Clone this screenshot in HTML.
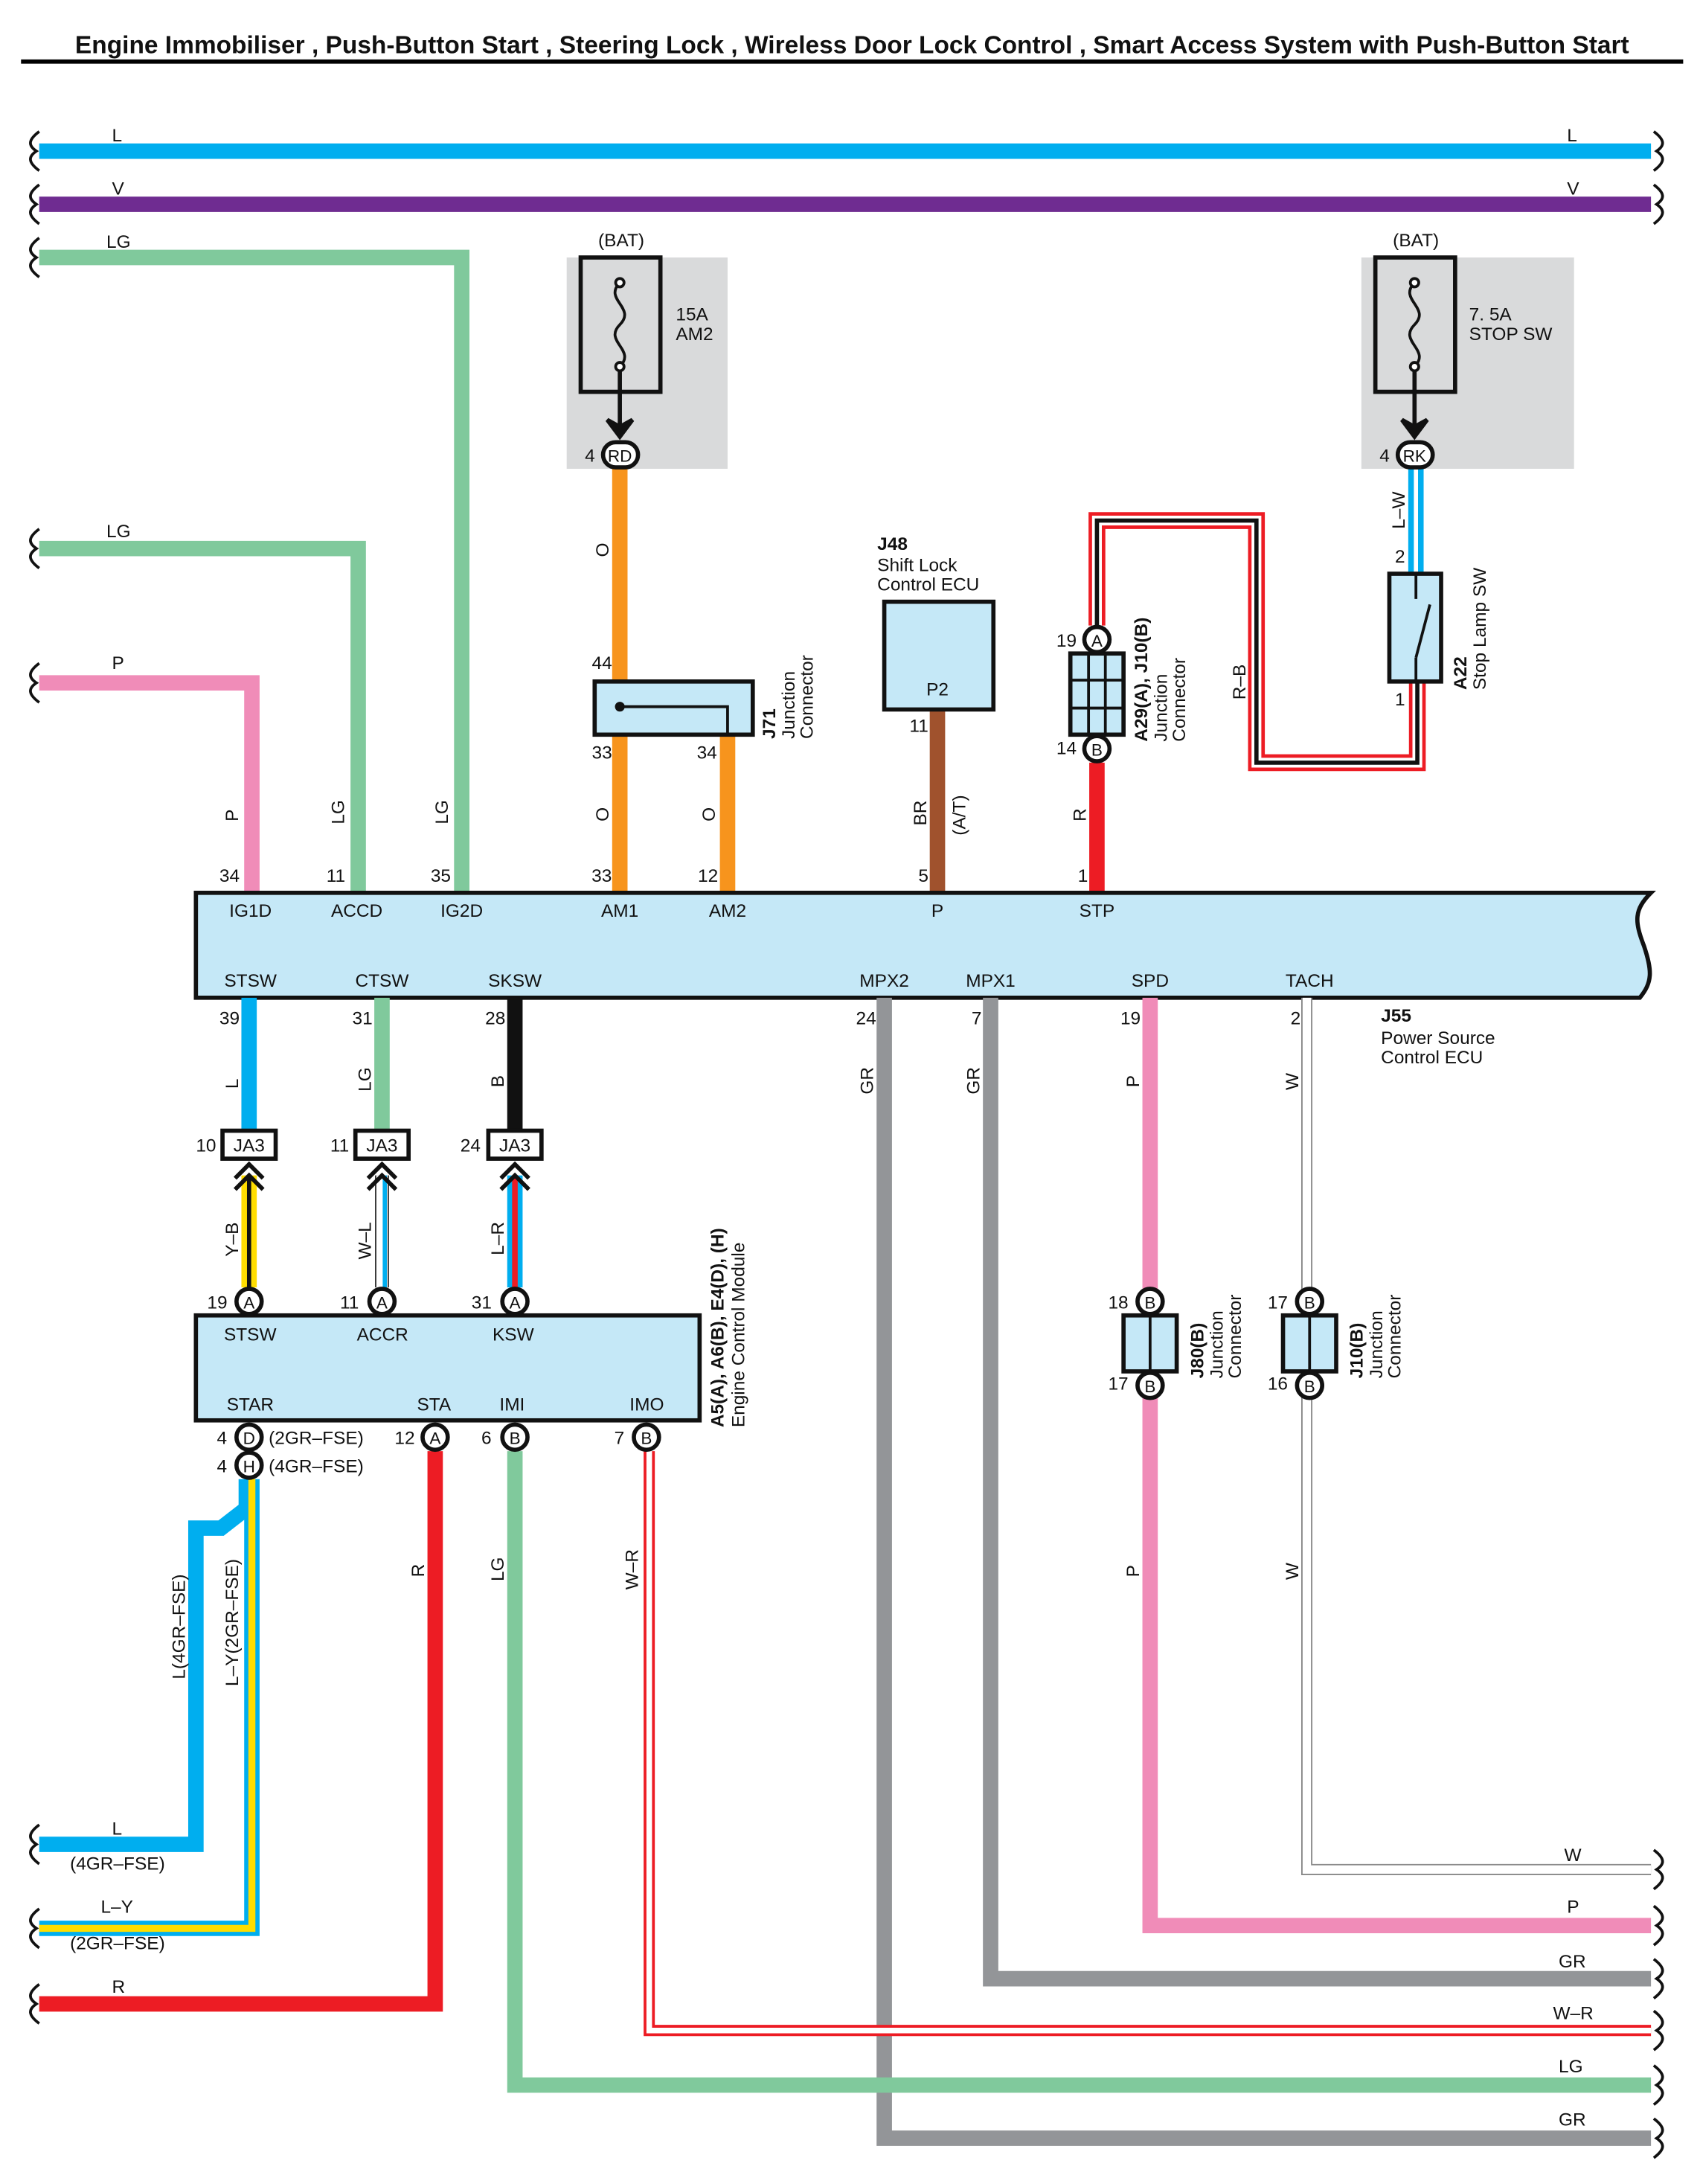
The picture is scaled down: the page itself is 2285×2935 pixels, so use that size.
<!DOCTYPE html>
<html><head><meta charset="utf-8"><style>
html,body{margin:0;padding:0;background:#fff}
svg{display:block}
text{font-family:"Liberation Sans",sans-serif;font-size:13px;fill:#111}
.b{font-weight:bold}
</style></head><body>
<svg width="2285" height="2935" viewBox="0 0 1215 1560.7" xmlns="http://www.w3.org/2000/svg">
<text x="609" y="38" text-anchor="middle" class="b" style="font-size:17.8px">Engine Immobiliser , Push-Button Start , Steering Lock , Wireless Door Lock Control , Smart Access System with Push-Button Start</text>
<line x1="15" y1="44" x2="1203" y2="44" stroke="#000" stroke-width="3"/>

<g fill="none" stroke-linejoin="miter">
<line x1="28" y1="108" x2="1180" y2="108" stroke="#00aeef" stroke-width="11"/>
<line x1="28" y1="146" x2="1180" y2="146" stroke="#6f2c91" stroke-width="11"/>
<polyline points="28,184 330,184 330,638" stroke="#80c99c" stroke-width="11"/>
<polyline points="28,392 256,392 256,638" stroke="#80c99c" stroke-width="11"/>
<polyline points="28,488 180,488 180,638" stroke="#f08cb8" stroke-width="11"/>
</g>
<rect x="405" y="184" width="115" height="151" fill="#d9dadb"/>
<rect x="973" y="184" width="152" height="151" fill="#d9dadb"/>
<g fill="none" stroke="#111" stroke-width="3">
<rect x="415" y="184" width="57" height="96"/>
<rect x="983" y="184" width="57" height="96"/>
<path d="M443 202 c-12 12 12 18 0 30 c-12 12 12 18 0 30" stroke-width="2"/>
<path d="M1011 202 c-12 12 12 18 0 30 c-12 12 12 18 0 30" stroke-width="2"/>
<line x1="443" y1="262" x2="443" y2="305"/>
<line x1="1011" y1="262" x2="1011" y2="305"/>
</g>
<g fill="#fff" stroke="#111" stroke-width="2"><circle cx="443" cy="202" r="3"/><circle cx="443" cy="262" r="3"/><circle cx="1011" cy="202" r="3"/><circle cx="1011" cy="262" r="3"/></g>
<path d="M434 300 L443 312 L452 300 L443 305 Z" fill="#111" stroke="#111" stroke-width="3"/>
<path d="M1002 300 L1011 312 L1020 300 L1011 305 Z" fill="#111" stroke="#111" stroke-width="3"/>
<text x="444" y="176" text-anchor="middle">(BAT)</text>
<text x="1012" y="176" text-anchor="middle">(BAT)</text>
<text x="483" y="229">15A</text><text x="483" y="243">AM2</text>
<text x="1050" y="229">7. 5A</text><text x="1050" y="243">STOP SW</text>

<g fill="none">
<line x1="443" y1="335" x2="443" y2="638" stroke="#f7941d" stroke-width="11"/>
<line x1="520" y1="525" x2="520" y2="638" stroke="#f7941d" stroke-width="11"/>
<line x1="670" y1="507" x2="670" y2="638" stroke="#a0522d" stroke-width="11"/>
<line x1="784" y1="545" x2="784" y2="638" stroke="#ed1c24" stroke-width="11"/>
<polyline points="784,447 784,372 898,372 898,545 1013,545 1013,487" stroke="#ed1c24" stroke-width="12"/>
<polyline points="784,447 784,372 898,372 898,545 1013,545 1013,487" stroke="#fff" stroke-width="7"/>
<polyline points="784,447 784,372 898,372 898,545 1013,545 1013,487" stroke="#111" stroke-width="3"/>
<line x1="1012" y1="335" x2="1012" y2="410" stroke="#00aeef" stroke-width="11"/>
<line x1="1012" y1="335" x2="1012" y2="410" stroke="#fff" stroke-width="3"/>
</g>
<rect x="425" y="487" width="113" height="38" fill="#c5e8f7" stroke="#111" stroke-width="3"/>
<polyline points="443,505 520,505 520,525" fill="none" stroke="#111" stroke-width="2"/>
<circle cx="443" cy="505" r="3.5" fill="#111"/>
<text x="423" y="478">44</text><text x="423" y="542">33</text><text x="498" y="542">34</text>
<g transform="translate(554,528) rotate(-90)"><text x="0" y="0" class="b">J71</text><text x="0" y="14">Junction</text><text x="0" y="27">Connector</text></g>
<rect x="632" y="430" width="78" height="77" fill="#c5e8f7" stroke="#111" stroke-width="3"/>
<text x="670" y="497" text-anchor="middle">P2</text>
<text x="627" y="393" class="b">J48</text><text x="627" y="408">Shift Lock</text><text x="627" y="422">Control ECU</text>
<text x="650" y="523">11</text>
<rect x="765" y="467" width="38" height="58" fill="#c5e8f7" stroke="#111" stroke-width="3"/>
<g stroke="#111" stroke-width="2"><line x1="778" y1="467" x2="778" y2="525"/><line x1="790" y1="467" x2="790" y2="525"/><line x1="765" y1="486" x2="803" y2="486"/><line x1="765" y1="506" x2="803" y2="506"/></g>
<text x="755" y="462">19</text><text x="755" y="539">14</text>
<g transform="translate(820,530) rotate(-90)"><text x="0" y="0" class="b">A29(A), J10(B)</text><text x="0" y="14">Junction</text><text x="0" y="27">Connector</text></g>
<rect x="993" y="410" width="37" height="77" fill="#c5e8f7" stroke="#111" stroke-width="3"/>
<g stroke="#111" stroke-width="2"><line x1="1012" y1="410" x2="1012" y2="428"/><line x1="1012" y1="470" x2="1012" y2="487"/><line x1="1012" y1="470" x2="1022" y2="432"/></g>
<text x="997" y="402">2</text><text x="997" y="504">1</text>
<g transform="translate(1048,493) rotate(-90)"><text x="0" y="0" class="b">A22</text><text x="0" y="14">Stop Lamp SW</text></g>

<g>
<text transform="translate(435,398) rotate(-90)">O</text>
<text transform="translate(435,587) rotate(-90)">O</text>
<text transform="translate(511,587) rotate(-90)">O</text>
<text transform="translate(662,590) rotate(-90)">BR</text>
<text transform="translate(690,597) rotate(-90)">(A/T)</text>
<text transform="translate(776,587) rotate(-90)">R</text>
<text transform="translate(890,500) rotate(-90)">R–B</text>
<text transform="translate(1004,378) rotate(-90)">L–W</text>
<text transform="translate(170,587) rotate(-90)">P</text>
<text transform="translate(246,589) rotate(-90)">LG</text>
<text transform="translate(320,589) rotate(-90)">LG</text>
</g>

<path d="M140 638 H1180 c-12 12 -12 20 -5 38 c6 18 6 26 -3 37 H140 Z" fill="#c5e8f7" stroke="#111" stroke-width="3"/>
<g text-anchor="middle">
<text x="164" y="630">34</text><text x="240" y="630">11</text><text x="315" y="630">35</text><text x="430" y="630">33</text><text x="506" y="630">12</text><text x="660" y="630">5</text><text x="774" y="630">1</text>
<text x="179" y="655">IG1D</text><text x="255" y="655">ACCD</text><text x="330" y="655">IG2D</text><text x="443" y="655">AM1</text><text x="520" y="655">AM2</text><text x="670" y="655">P</text><text x="784" y="655">STP</text>
<text x="179" y="705">STSW</text><text x="273" y="705">CTSW</text><text x="368" y="705">SKSW</text><text x="632" y="705">MPX2</text><text x="708" y="705">MPX1</text><text x="822" y="705">SPD</text><text x="936" y="705">TACH</text>
<text x="164" y="732">39</text><text x="259" y="732">31</text><text x="354" y="732">28</text><text x="619" y="732">24</text><text x="698" y="732">7</text><text x="808" y="732">19</text><text x="926" y="732">2</text>
</g>
<text x="987" y="730" class="b">J55</text><text x="987" y="746">Power Source</text><text x="987" y="760">Control ECU</text>

<g fill="none">
<line x1="178" y1="713" x2="178" y2="808" stroke="#00aeef" stroke-width="11"/>
<line x1="273" y1="713" x2="273" y2="808" stroke="#80c99c" stroke-width="11"/>
<line x1="368" y1="713" x2="368" y2="808" stroke="#111" stroke-width="11"/>
<polyline points="632,713 632,1528 1180,1528" stroke="#939598" stroke-width="11"/>
<polyline points="708,713 708,1414 1180,1414" stroke="#939598" stroke-width="11"/>
<polyline points="822,713 822,1376 1180,1376" stroke="#f08cb8" stroke-width="11"/>
<polyline points="934,713 934,1336 1180,1336" stroke="#888" stroke-width="8"/>
<polyline points="934,713 934,1336 1180,1336" stroke="#fff" stroke-width="6"/>
<line x1="178" y1="840" x2="178" y2="920" stroke="#ffdd00" stroke-width="11"/>
<line x1="178" y1="840" x2="178" y2="920" stroke="#111" stroke-width="3"/>
<line x1="273" y1="840" x2="273" y2="920" stroke="#333" stroke-width="10"/>
<line x1="273" y1="840" x2="273" y2="920" stroke="#fff" stroke-width="8"/>
<line x1="275" y1="840" x2="275" y2="920" stroke="#00aeef" stroke-width="3"/>
<line x1="368" y1="840" x2="368" y2="920" stroke="#00aeef" stroke-width="11"/>
<line x1="368" y1="840" x2="368" y2="920" stroke="#ed1c24" stroke-width="4"/>
<polyline points="176,1057 176,1078 158,1092 140,1092 140,1318 28,1318" stroke="#00aeef" stroke-width="11"/>
<polyline points="180,1057 180,1378 28,1378" stroke="#00aeef" stroke-width="11"/>
<polyline points="180,1057 180,1378 28,1378" stroke="#ffdd00" stroke-width="5"/>
<polyline points="311,1037 311,1432 28,1432" stroke="#ed1c24" stroke-width="11"/>
<polyline points="368,1037 368,1490 1180,1490" stroke="#80c99c" stroke-width="11"/>
<polyline points="464,1037 464,1451 1180,1451" stroke="#ed1c24" stroke-width="8"/>
<polyline points="464,1037 464,1451 1180,1451" stroke="#fff" stroke-width="4"/>
</g>
<g fill="#fff" stroke="#111" stroke-width="3">
<rect x="159" y="808" width="38" height="20"/><rect x="254" y="808" width="38" height="20"/><rect x="349" y="808" width="38" height="20"/>
</g>
<g fill="none" stroke="#111" stroke-width="3">
<path d="M168 842 l10 -10 l10 10 M168 850 l10 -10 l10 10"/>
<path d="M263 842 l10 -10 l10 10 M263 850 l10 -10 l10 10"/>
<path d="M358 842 l10 -10 l10 10 M358 850 l10 -10 l10 10"/>
</g>
<g text-anchor="middle"><text x="178" y="823">JA3</text><text x="273" y="823">JA3</text><text x="368" y="823">JA3</text></g>
<text x="140" y="823">10</text><text x="236" y="823">11</text><text x="329" y="823">24</text>
<text transform="translate(170,898) rotate(-90)">Y–B</text>
<text transform="translate(265,900) rotate(-90)">W–L</text>
<text transform="translate(360,897) rotate(-90)">L–R</text>

<rect x="140" y="940" width="360" height="75" fill="#c5e8f7" stroke="#111" stroke-width="3"/>
<text x="160" y="958">STSW</text><text x="255" y="958">ACCR</text><text x="352" y="958">KSW</text>
<text x="162" y="1008">STAR</text><text x="298" y="1008">STA</text><text x="357" y="1008">IMI</text><text x="450" y="1008">IMO</text>
<g transform="translate(517,1020) rotate(-90)"><text x="0" y="0" class="b">A5(A), A6(B), E4(D), (H)</text><text x="0" y="15">Engine Control Module</text></g>
<text x="148" y="935">19</text><text x="243" y="935">11</text><text x="337" y="935">31</text>
<text x="155" y="1032">4</text><text x="155" y="1052">4</text><text x="282" y="1032">12</text><text x="344" y="1032">6</text><text x="439" y="1032">7</text>
<text x="192" y="1032">(2GR–FSE)</text><text x="192" y="1052">(4GR–FSE)</text>

<rect x="803" y="940" width="38" height="40" fill="#c5e8f7" stroke="#111" stroke-width="3"/>
<line x1="822" y1="940" x2="822" y2="980" stroke="#111" stroke-width="2"/>
<rect x="917" y="940" width="38" height="40" fill="#c5e8f7" stroke="#111" stroke-width="3"/>
<line x1="936" y1="940" x2="936" y2="980" stroke="#111" stroke-width="2"/>
<text x="792" y="935">18</text><text x="792" y="993">17</text><text x="906" y="935">17</text><text x="906" y="993">16</text>
<g transform="translate(860,985) rotate(-90)"><text x="0" y="0" class="b">J80(B)</text><text x="0" y="14">Junction</text><text x="0" y="27">Connector</text></g>
<g transform="translate(974,985) rotate(-90)"><text x="0" y="0" class="b">J10(B)</text><text x="0" y="14">Junction</text><text x="0" y="27">Connector</text></g>

<g fill="#fff" stroke="#111" stroke-width="3">
<rect x="431" y="316" width="25" height="18" rx="9"/><rect x="999" y="316" width="25" height="18" rx="9"/>
<circle cx="784" cy="457" r="9"/><circle cx="784" cy="535" r="9"/>
<circle cx="178" cy="930" r="9"/><circle cx="273" cy="930" r="9"/><circle cx="368" cy="930" r="9"/>
<circle cx="178" cy="1027" r="9"/><circle cx="178" cy="1047" r="9"/><circle cx="311" cy="1027" r="9"/><circle cx="368" cy="1027" r="9"/><circle cx="462" cy="1027" r="9"/>
<circle cx="822" cy="930" r="9"/><circle cx="822" cy="990" r="9"/><circle cx="936" cy="930" r="9"/><circle cx="936" cy="990" r="9"/>
</g>
<g text-anchor="middle">
<text x="443" y="330" style="font-size:12px">RD</text><text x="1011" y="330" style="font-size:12px">RK</text>
<text x="784" y="462" style="font-size:12px">A</text><text x="784" y="540" style="font-size:12px">B</text>
<text x="178" y="935" style="font-size:12px">A</text><text x="273" y="935" style="font-size:12px">A</text><text x="368" y="935" style="font-size:12px">A</text>
<text x="178" y="1032" style="font-size:12px">D</text><text x="178" y="1052" style="font-size:12px">H</text><text x="311" y="1032" style="font-size:12px">A</text><text x="368" y="1032" style="font-size:12px">B</text><text x="462" y="1032" style="font-size:12px">B</text>
<text x="822" y="935" style="font-size:12px">B</text><text x="822" y="995" style="font-size:12px">B</text><text x="936" y="935" style="font-size:12px">B</text><text x="936" y="995" style="font-size:12px">B</text>
</g>
<text x="418" y="330">4</text><text x="986" y="330">4</text>

<text transform="translate(624,782) rotate(-90)">GR</text>
<text transform="translate(700,782) rotate(-90)">GR</text>
<text transform="translate(814,777) rotate(-90)">P</text>
<text transform="translate(928,779) rotate(-90)">W</text>
<text transform="translate(170,778) rotate(-90)">L</text>
<text transform="translate(265,780) rotate(-90)">LG</text>
<text transform="translate(360,777) rotate(-90)">B</text>
<text transform="translate(814,1127) rotate(-90)">P</text>
<text transform="translate(928,1129) rotate(-90)">W</text>
<text transform="translate(303,1127) rotate(-90)">R</text>
<text transform="translate(360,1130) rotate(-90)">LG</text>
<text transform="translate(456,1136) rotate(-90)">W–R</text>
<text transform="translate(132,1200) rotate(-90)">L(4GR–FSE)</text>
<text transform="translate(170,1205) rotate(-90)">L–Y(2GR–FSE)</text>

<text x="80" y="101">L</text><text x="80" y="139">V</text><text x="76" y="177">LG</text><text x="76" y="384">LG</text><text x="80" y="478">P</text>
<text x="1120" y="101">L</text><text x="1120" y="139">V</text>
<text x="80" y="1311">L</text><text x="50" y="1336">(4GR–FSE)</text>
<text x="72" y="1367">L–Y</text><text x="50" y="1393">(2GR–FSE)</text>
<text x="80" y="1424">R</text>
<text x="1118" y="1330">W</text><text x="1120" y="1367">P</text><text x="1114" y="1406">GR</text><text x="1110" y="1443">W–R</text><text x="1114" y="1481">LG</text><text x="1114" y="1519">GR</text>

<g fill="none" stroke="#111" stroke-width="2">
<path id="bl" d="M28 94 c-8 6 -8 10 -2 14 c-6 4 -6 8 2 14"/>
<use href="#bl" y="38"/><use href="#bl" y="76"/><use href="#bl" y="284"/><use href="#bl" y="380"/>
<use href="#bl" y="1210"/><use href="#bl" y="1270"/><use href="#bl" y="1324"/>
<path id="br" d="M1182 94 c8 6 8 10 2 14 c6 4 6 8 -2 14"/>
<use href="#br" y="38"/><use href="#br" y="1228"/><use href="#br" y="1268"/><use href="#br" y="1306"/><use href="#br" y="1343"/><use href="#br" y="1382"/><use href="#br" y="1420"/>
</g>
</svg>
</body></html>
